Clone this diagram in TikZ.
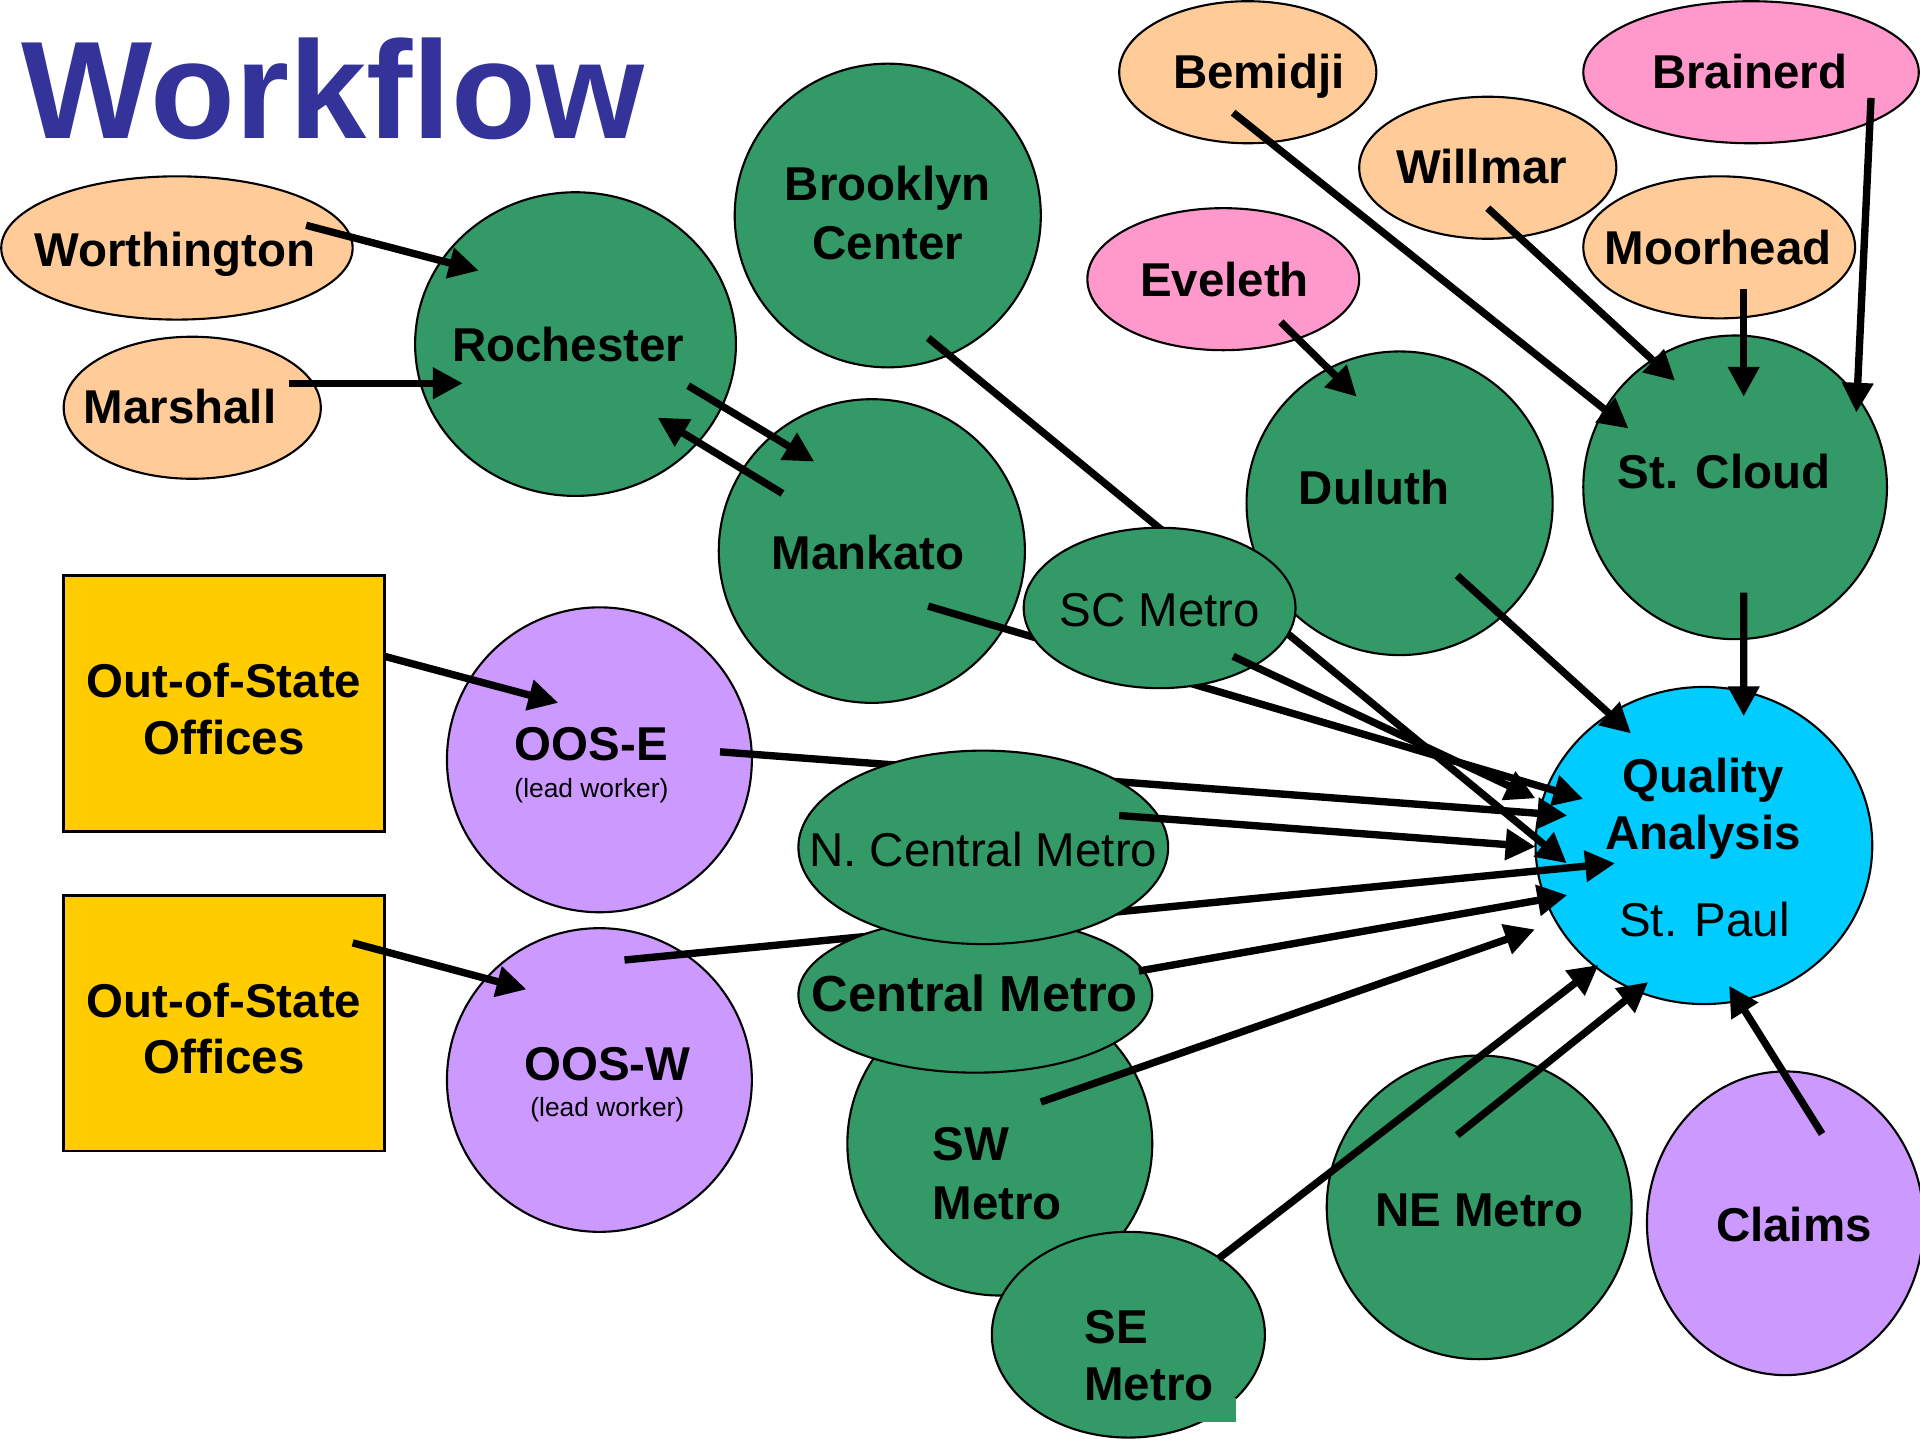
\documentclass[tikz,border=0pt]{standalone}
\usepackage{fontspec}
\setmainfont{Liberation Sans}
\usetikzlibrary{shapes.geometric,arrows.meta}
\definecolor{grn}{HTML}{339966}
\definecolor{peach}{HTML}{FFCC99}
\definecolor{pinkc}{HTML}{FF99CC}
\definecolor{cyanc}{HTML}{00CCFF}
\definecolor{lav}{HTML}{CC99FF}
\definecolor{yel}{HTML}{FFCC00}
\definecolor{titleblue}{HTML}{333399}
\tikzset{
  el/.style 2 args={shape=ellipse, draw=black, line width=0.6pt, inner sep=0pt,
    minimum width=2*#1*0.012245cm, minimum height=2*#2*0.012245cm},
  officebox/.style 2 args={shape=rectangle, draw=black, line width=0.8pt, inner sep=0pt, fill=yel,
    minimum width=#1*0.012245cm, minimum height=#2*0.012245cm},
  lbl/.style={font=\fontsize{13.5}{16.4}\selectfont\bfseries, anchor=base, inner sep=0pt},
  rlbl/.style={font=\fontsize{13.5}{16.4}\selectfont, anchor=base, inner sep=0pt},
  smalllbl/.style={font=\fontsize{7.5}{9}\selectfont, anchor=base, inner sep=0pt},
  arr/.style={line width=2.1pt, -{Triangle[length=8.5pt,width=8.5pt]}}
}
\begin{document}
\begin{tikzpicture}[x=0.012245cm, y=-0.012245cm]
\clip (0,0) rectangle (1568,1176);
\fill[white] (0,0) rectangle (1568,1176);

\node[anchor=base west, inner sep=0pt, text=titleblue, font=\fontsize{39.5}{40}\selectfont\bfseries] (title) at (17,113) {Workflow};

% background nodes
\node[el={143.5}{58.5}, fill=peach] (worth) at (144.5,202.5) {};
\node[lbl] (worthT) at (143,218) {Worthington};
\node[el={105}{58}, fill=peach] (marsh) at (157,333) {};
\node[lbl] (marshT) at (147,346) {Marshall};
\node[el={131}{124}, fill=grn] (roch) at (470,281) {};
\node[lbl] (rochT) at (464,295) {Rochester};
\node[el={125}{124}, fill=grn] (brook) at (725,176) {};
\node[lbl] (brookT1) at (725,164) {Brooklyn};
\node[lbl] (brookT2) at (725,212) {Center};
\node[el={125}{124}, fill=grn] (mank) at (712,450) {};
\node[lbl] (mankT) at (709,465) {Mankato};
\node[el={105}{58}, fill=peach] (bemi) at (1019,59) {};
\node[lbl] (bemiT) at (1028,72) {Bemidji};
\node[el={137}{58}, fill=pinkc] (brain) at (1430,59) {};
\node[lbl] (brainT) at (1429,72) {Brainerd};
\node[el={105}{58}, fill=peach] (will) at (1215,137) {};
\node[lbl] (willT) at (1210,150) {Willmar};
\node[el={111}{58}, fill=peach] (moor) at (1404,202) {};
\node[lbl] (moorT) at (1403,216) {Moorhead};
\node[el={111}{58}, fill=pinkc] (evel) at (999,228) {};
\node[lbl] (evelT) at (1000,242) {Eveleth};
\node[el={125}{124}, fill=grn] (dulu) at (1143,411) {};
\node[lbl] (duluT) at (1122,412) {Duluth};
\node[el={124}{124}, fill=grn] (stcl) at (1417,398) {};
\node[lbl] (stclT) at (1408,399) {St. Cloud};
\node[el={137.5}{129.5}, fill=cyanc] (qa) at (1391.5,690.5) {};
\node[lbl] (qaT1) at (1391,647) {Quality};
\node[lbl] (qaT2) at (1391,694) {Analysis};
\node[rlbl] (qaT3) at (1392,765) {St. Paul};
\node[el={113}{124}, fill=lav] (claims) at (1458,999) {};
\node[lbl] (claimsT) at (1465,1014) {Claims};
\node[el={124.5}{124}, fill=grn] (ne) at (1208,986) {};
\node[lbl] (neT) at (1208,1002) {NE Metro};
\node[officebox={262}{209}] (off1) at (183,574.5) {};
\node[lbl] (off1T1) at (183,570) {Out-of-State};
\node[lbl] (off1T2) at (183,616) {Offices};
\node[officebox={262}{209}] (off2) at (183,835.5) {};
\node[lbl] (off2T1) at (183,831) {Out-of-State};
\node[lbl] (off2T2) at (183,877) {Offices};
\node[el={124.5}{124.5}, fill=lav] (oose) at (489.5,620.5) {};
\node[lbl] (ooseT) at (483,621) {OOS-E};
\node[smalllbl] (ooseS) at (483,651) {(lead worker)};
\node[el={124.5}{124}, fill=lav] (oosw) at (489.5,882) {};
\node[lbl] (ooswT) at (496,882) {OOS-W};
\node[smalllbl] (ooswS) at (496,912) {(lead worker)};

% connectors passing behind later shapes
\draw[arr] ([shift={(33,100)}]brook.center) -- ([shift={(-112,14.5)}]qa.center);
\draw[arr] ([shift={(46,45)}]mank.center) -- ([shift={(-98.5,-38)}]qa.center);
\draw[arr] ([shift={(98.5,-6.5)}]oose.center) -- ([shift={(-111.5,-24.5)}]qa.center);
\draw[arr] ([shift={(20.5,-98)}]oosw.center) -- ([shift={(-72.5,14.5)}]qa.center);

% foreground metro nodes
\node[el={124.5}{124}, fill=grn] (sw) at (816.5,934) {};
\node[lbl, anchor=base west] (swT1) at (761,948) {SW};
\node[lbl, anchor=base west] (swT2) at (761,996) {Metro};
\node[el={111.5}{84}, fill=grn] (se) at (921.5,1090) {};
\fill[grn] (975,1142) rectangle (1009,1161);
\node[lbl, anchor=base west] (seT1) at (885,1097) {SE};
\node[lbl, anchor=base west] (seT2) at (885,1144) {Metro};
\node[el={144.5}{63.5}, fill=grn] (cm) at (796.5,812.5) {};
\node[lbl, font=\fontsize{14.4}{16.4}\selectfont\bfseries] (cmT) at (796,826) {Central Metro};
\node[el={151}{79}, fill=grn] (ncm) at (803,692) {};
\node[rlbl] (ncmT) at (803,708) {N. Central Metro};
\node[el={111}{65.5}, fill=grn] (scm) at (947,496.5) {};
\node[rlbl] (scmT) at (947,512) {SC Metro};

% other connectors
\draw[arr] ([shift={(105.5,-18.5)}]worth.center) -- ([shift={(-79,-60)}]roch.center);
\draw[arr] ([shift={(79,-20)}]marsh.center) -- ([shift={(-92,32)}]roch.center);
\draw[arr] ([shift={(92,34)}]roch.center) -- ([shift={(-47,-73)}]mank.center);
\draw[arr] ([shift={(-73,-47)}]mank.center) -- ([shift={(67,60)}]roch.center);
\draw[arr] ([shift={(60,39.5)}]scm.center) -- ([shift={(-137.5,-38.5)}]qa.center);
\draw[arr] ([shift={(47,59)}]dulu.center) -- ([shift={(-59.5,-91.5)}]qa.center);
\draw[arr] ([shift={(7,86)}]stcl.center) -- ([shift={(32.5,-105.5)}]qa.center);
\draw[arr] ([shift={(-12,33)}]bemi.center) -- ([shift={(-87,-48)}]stcl.center);
\draw[arr] ([shift={(0,33)}]will.center) -- ([shift={(-49,-87)}]stcl.center);
\draw[arr] ([shift={(20,34)}]moor.center) -- ([shift={(7,-74)}]stcl.center);
\draw[arr] ([shift={(98,21)}]brain.center) -- ([shift={(99,-61)}]stcl.center);
\draw[arr] ([shift={(47,35)}]evel.center) -- ([shift={(-35,-87)}]dulu.center);
\draw[arr] ([shift={(131,-38.5)}]off1.center) -- ([shift={(-33.5,-46.5)}]oose.center);
\draw[arr] ([shift={(105,-65.5)}]off2.center) -- ([shift={(-59.5,-74)}]oosw.center);
\draw[arr] ([shift={(111,-26)}]ncm.center) -- ([shift={(-137.5,1)}]qa.center);
\draw[arr] ([shift={(133.5,-19.5)}]cm.center) -- ([shift={(-111.5,40.5)}]qa.center);
\draw[arr] ([shift={(33.5,-34)}]sw.center) -- ([shift={(-138,68.5)}]qa.center);
\draw[arr] ([shift={(73.5,-62)}]se.center) -- ([shift={(-86,97.5)}]qa.center);
\draw[arr] ([shift={(-18,-59)}]ne.center) -- ([shift={(-45.5,111.5)}]qa.center);
\draw[arr] ([shift={(30,-73)}]claims.center) -- ([shift={(20.5,114.5)}]qa.center);
\end{tikzpicture}
\end{document}
